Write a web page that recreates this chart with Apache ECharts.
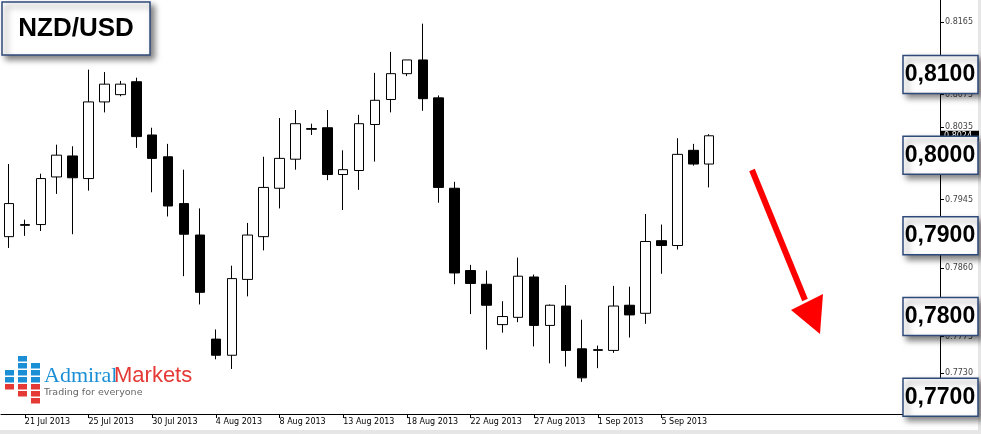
<!DOCTYPE html>
<html>
<head>
<meta charset="UTF-8">
<script src="https://cdn.jsdelivr.net/npm/echarts/dist/echarts.min.js"></script>
<style>
  html, body { margin: 0; padding: 0; background: #fff; }
  #chart { width: 981px; height: 434px; }
</style>
</head>
<body>
<div id="chart"></div>
<script>
// candle dates (Sundays included, Saturdays not)
const dates = ['19 Jul 2013','21 Jul 2013','22 Jul 2013','23 Jul 2013','24 Jul 2013','25 Jul 2013','26 Jul 2013',
  '28 Jul 2013','29 Jul 2013','30 Jul 2013','31 Jul 2013','1 Aug 2013','2 Aug 2013','4 Aug 2013','5 Aug 2013',
  '6 Aug 2013','7 Aug 2013','8 Aug 2013','9 Aug 2013','11 Aug 2013','12 Aug 2013','13 Aug 2013','14 Aug 2013',
  '15 Aug 2013','16 Aug 2013','18 Aug 2013','19 Aug 2013','20 Aug 2013','21 Aug 2013','22 Aug 2013','23 Aug 2013',
  '25 Aug 2013','26 Aug 2013','27 Aug 2013','28 Aug 2013','29 Aug 2013','30 Aug 2013','1 Sep 2013','2 Sep 2013',
  '3 Sep 2013','4 Sep 2013','5 Sep 2013','6 Sep 2013','8 Sep 2013','9 Sep 2013'];
const emptySlots = 14;

// [open, close, low, high]
const ohlc = [
  [0.7899,0.7940,0.7885,0.7989],[0.7913,0.7914,0.7900,0.7920],[0.7914,0.7971,0.7906,0.7977],
  [0.7973,0.8000,0.7952,0.8013],[0.7999,0.7972,0.7902,0.8011],[0.7971,0.8066,0.7956,0.8106],
  [0.8066,0.8088,0.8053,0.8103],[0.8075,0.8088,0.8073,0.8092],[0.8091,0.8023,0.8009,0.8096],
  [0.8025,0.7996,0.7954,0.8034],[0.7998,0.7937,0.7924,0.8014],[0.7940,0.7902,0.7850,0.7982],
  [0.7901,0.7830,0.7815,0.7934],[0.7772,0.7752,0.7747,0.7784],[0.7752,0.7847,0.7735,0.7863],
  [0.7846,0.7901,0.7825,0.7916],[0.7899,0.7960,0.7882,0.7998],[0.7959,0.7996,0.7934,0.8046],
  [0.7995,0.8039,0.7982,0.8056],[0.8032,0.8033,0.8025,0.8039],[0.8034,0.7976,0.7969,0.8056],
  [0.7976,0.7982,0.7932,0.8006],[0.7981,0.8039,0.7957,0.8050],[0.8038,0.8068,0.7992,0.8102],
  [0.8069,0.8101,0.8053,0.8128],[0.8101,0.8118,0.8098,0.8118],[0.8118,0.8070,0.8055,0.8163],
  [0.8071,0.7960,0.7941,0.8074],[0.7959,0.7854,0.7840,0.7967],[0.7857,0.7841,0.7803,0.7864],
  [0.7840,0.7814,0.7759,0.7857],[0.7790,0.7800,0.7780,0.7819],[0.7799,0.7850,0.7793,0.7873],
  [0.7849,0.7789,0.7763,0.7852],[0.7789,0.7814,0.7742,0.7815],[0.7813,0.7758,0.7738,0.7839],
  [0.7760,0.7724,0.7719,0.7796],[0.7758,0.7759,0.7736,0.7764],[0.7758,0.7813,0.7755,0.7838],
  [0.7814,0.7802,0.7774,0.7837],[0.7804,0.7893,0.7791,0.7927],[0.7894,0.7888,0.7853,0.7914],
  [0.7888,0.8001,0.7883,0.8021],[0.8006,0.7989,0.7987,0.8014],[0.7989,0.8024,0.7960,0.8026]
];

const priceTicks = [0.8165, 0.8075, 0.8035, 0.7945, 0.7860, 0.7775, 0.7730];
const levels = [0.8100, 0.8000, 0.7900, 0.7800, 0.7700];
const lastPrice = 0.8024;

const categories = dates.concat(new Array(emptySlots).fill(''));

const chart = echarts.init(document.getElementById('chart'));
chart.setOption({
  animation: false,
  grid: { left: 1, right: 41, top: 0, bottom: 20 },
  xAxis: {
    type: 'category',
    data: categories,
    boundaryGap: true,
    axisLine: { lineStyle: { color: '#000', width: 1 } },
    axisTick: { show: true, alignWithLabel: true, length: 4, lineStyle: { color: '#000' },
      interval: (i) => i % 4 === 1 && i < dates.length },
    axisLabel: { interval: (i) => i % 4 === 1 && i < dates.length, align: 'left', margin: 4,
      fontFamily: 'DejaVu Sans', fontSize: 8, color: '#000' },
    splitLine: { show: false }
  },
  yAxis: {
    type: 'value',
    position: 'right',
    min: 0.76792, max: 0.81923,
    axisLine: { show: true, lineStyle: { color: '#000' } },
    axisTick: { show: true, length: 4, customValues: priceTicks, lineStyle: { color: '#000' } },
    axisLabel: { customValues: priceTicks, formatter: (v) => v.toFixed(4), margin: 5,
      fontFamily: 'DejaVu Sans', fontSize: 8, color: '#444' },
    splitLine: { show: false }
  },
  series: [{
    type: 'candlestick',
    data: ohlc,
    barWidth: 10,
    itemStyle: { color: '#fff', color0: '#000', borderColor: '#000', borderColor0: '#000', borderWidth: 1 }
  }]
});

function yPix(v) { return chart.convertToPixel({ yAxisIndex: 0 }, v); }

const shadow = { shadowBlur: 6, shadowOffsetX: 4, shadowOffsetY: 4, shadowColor: 'rgba(0,0,0,0.5)' };
const graphics = [
  // right grey strip and bottom strip
  { type: 'rect', shape: { x: 978, y: 0, width: 3, height: 434 }, style: { fill: '#e6e6e6' }, z: 1 },
  { type: 'rect', shape: { x: 0, y: 430, width: 981, height: 4 }, style: { fill: '#e6e6e6' }, z: 1 },
  // title box
  { type: 'rect', shape: { x: 2, y: 2, width: 148, height: 53 }, style: Object.assign({ fill: '#fff', stroke: '#2e4a7a', lineWidth: 1.5 }, shadow), z: 20 },
  { type: 'text', x: 76, y: 29, style: { text: 'NZD/USD', fill: '#000', font: 'bold 26px "Liberation Sans"', align: 'center', verticalAlign: 'middle' }, z: 21 },
  // last price tag
  { type: 'rect', shape: { x: 941, y: yPix(lastPrice) - 5, width: 38, height: 10 }, style: { fill: '#000' }, z: 10 },
  { type: 'text', x: 944, y: yPix(lastPrice), style: { text: lastPrice.toFixed(4), fill: '#fff', font: '8px "DejaVu Sans"', verticalAlign: 'middle' }, z: 11 },
  // red arrow
  { type: 'line', shape: { x1: 752, y1: 170, x2: 805, y2: 300 }, style: { stroke: '#ff0000', lineWidth: 6 }, z: 15 },
  { type: 'polygon', shape: { points: [[791, 310], [823, 294], [820, 334]] }, style: { fill: '#ff0000' }, z: 15 },
  // logo text
  { type: 'text', x: 44, y: 376, style: { text: 'Admiral', fill: '#1a8fd6', font: '22px "Liberation Serif"', verticalAlign: 'middle' }, z: 5 },
  { type: 'text', x: 114, y: 376, style: { text: 'Markets', fill: '#e53935', font: '22px "Liberation Sans"', verticalAlign: 'middle' }, z: 5 },
  { type: 'text', x: 44, y: 393, style: { text: 'Trading for everyone', fill: '#666', font: '9.5px "DejaVu Sans"', verticalAlign: 'middle' }, z: 5 }
];

// logo squares: [column x, row y, colour]
const logoCells = [
  [18,356,'b'],[18,363,'b'],[18,370,'b'],[18,377,'b'],[18,384,'r'],[18,391,'r'],
  [31,363,'b'],[31,370,'b'],[31,377,'b'],[31,384,'r'],[31,391,'r'],[31,398,'r'],
  [5,370,'b'],[5,377,'b'],[5,384,'r']
];
logoCells.forEach(([x, y, c]) => graphics.push({ type: 'rect', shape: { x: x, y: y, width: 9, height: 5.5 },
  style: { fill: c === 'b' ? '#1a8fd6' : '#e53935' }, z: 5 }));

// level boxes
levels.forEach(v => {
  const cy = yPix(v);
  graphics.push({ type: 'rect', shape: { x: 903, y: cy - 19, width: 75, height: 38 },
    style: Object.assign({ fill: '#fff', stroke: '#2e4a7a', lineWidth: 1.5 }, shadow), z: 20 });
  graphics.push({ type: 'text', x: 940, y: cy, style: { text: v.toFixed(4).replace('.', ','), fill: '#000',
    font: 'bold 23px "Liberation Sans"', align: 'center', verticalAlign: 'middle' }, z: 21 });
});

chart.setOption({ graphic: graphics });
</script>
</body>
</html>
